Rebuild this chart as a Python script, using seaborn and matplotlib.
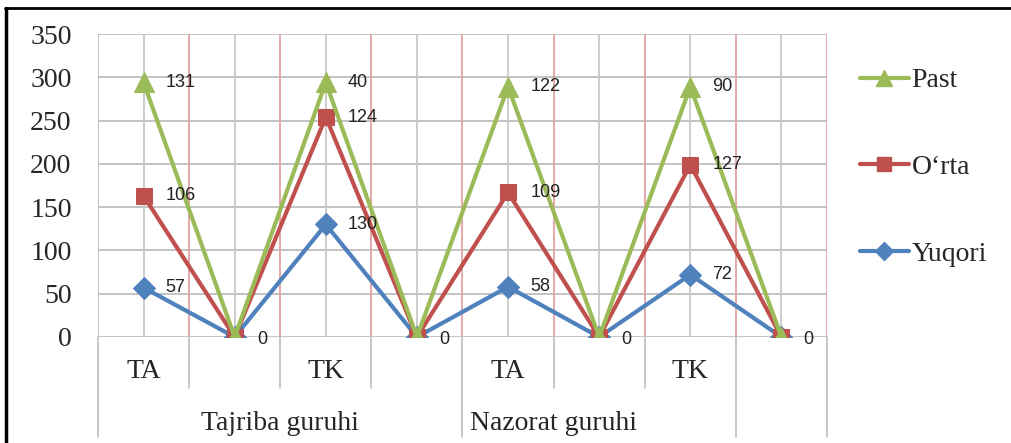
import numpy as np
import pandas as pd
import matplotlib
matplotlib.use("Agg")
import matplotlib.pyplot as plt
import matplotlib.transforms as mtransforms
from matplotlib.lines import Line2D
import seaborn as sns

# --- Data ---
categories = ["TA", "", "TK", "", "TA", "", "TK", ""]
groups = ["Tajriba guruhi", "Nazorat guruhi"]
yuqori = [57, 0, 130, 0, 58, 0, 72, 0]
orta = [106, 0, 124, 0, 109, 0, 127, 0]
past = [131, 0, 40, 0, 122, 0, 90, 0]

series_names = ["Yuqori", "O\u2018rta", "Past"]
series_vals = [yuqori, orta, past]
colors = ["#4F81BD", "#C0504D", "#9BBB59"]
markers = ["D", "s", "^"]
msizes = [11, 12, 14]

sns.set_style("white")
plt.rcParams["font.family"] = ["Liberation Serif", "DejaVu Serif"]

fig = plt.figure(figsize=(10.12, 4.43), dpi=100)
W, H = 1012, 443
ax = fig.add_axes([98 / W, 1 - 337 / H, (827 - 98) / W, (337 - 34) / H])

pos = np.arange(len(categories))
# stacked line chart
cum = np.zeros(len(categories))
df = pd.DataFrame({"pos": pos})
for name, vals in zip(series_names, series_vals):
    cum = cum + np.array(vals)
    df[name] = cum.copy()

handles = {}
for name, vals, col, mk, ms in zip(series_names, series_vals, colors, markers, msizes):
    sns.lineplot(data=df, x="pos", y=name, ax=ax, color=col, marker=mk,
                 markersize=ms, markeredgecolor=col, linewidth=3, zorder=5)
    handles[name] = Line2D([], [], color=col, marker=mk, markersize=ms * 0.8,
                           markeredgecolor=col, linewidth=3)
    for x, yv, v in zip(pos, df[name], vals):
        if v == 0 and name != "Past":
            continue
        ax.annotate(str(v), (x, yv), xytext=(16, -2 if v == 0 else 0),
                    textcoords="offset points", ha="left", va="center",
                    fontsize=13, family="Liberation Sans", color="#222222",
                    zorder=6)

ax.set_xlim(-0.5, len(categories) - 0.5)
ax.set_ylim(0, 350)
ax.set_yticks(np.arange(0, 351, 50))
ax.set_yticklabels([str(v) for v in range(0, 351, 50)], fontsize=20)
ax.tick_params(axis="y", length=7, color="#BEBEBE", width=1.2, pad=12)
ax.set_xticks([])
ax.set_xlabel("")
ax.set_ylabel("")
for s in ax.spines.values():
    s.set_visible(False)

# gridlines
for yv in range(0, 351, 50):
    ax.axhline(yv, color="#BEBEBE", lw=1.3, zorder=1)
for x in pos:
    ax.axvline(x, color="#C8C8C8", lw=1.3, zorder=1)
ax.axvline(-0.5, color="#BEBEBE", lw=1.3, zorder=1)
for x in pos + 0.5:
    ax.axvline(x, color="#E3A3A3", lw=1.3, zorder=1)

# multi-level category axis
trans = mtransforms.blended_transform_factory(ax.transData, ax.transAxes)
for x in [0.5, 1.5, 2.5, 4.5, 5.5]:
    ax.plot([x, x], [0, -0.168], color="#BEBEBE", lw=1.2, transform=trans, clip_on=False)
for x in [-0.5, 3.5, 6.5, 7.5]:
    ax.plot([x, x], [0, -0.33], color="#BEBEBE", lw=1.2, transform=trans, clip_on=False)
for x, lab in zip(pos, categories):
    if lab:
        ax.text(x, -0.115, lab, transform=trans, ha="center", va="center", fontsize=20)
ax.text(1.5, -0.284, groups[0], transform=trans, ha="center", va="center", fontsize=20)
ax.text(4.5, -0.284, groups[1], transform=trans, ha="center", va="center", fontsize=20)

# legend
leg_order = ["Past", "O\u2018rta", "Yuqori"]
leg = fig.legend([handles[n] for n in leg_order], leg_order,
                 loc="upper left", bbox_to_anchor=(860 / W, 1 - 68 / H),
                 frameon=False, fontsize=20, labelspacing=2.2, borderpad=0,
                 borderaxespad=0, handlelength=1.75, handletextpad=0.1)

# outer frame remnants
fig.add_artist(Line2D([6 / W, 6 / W], [0, 1 - 8 / H], color="black", lw=2.5,
                      transform=fig.transFigure))
fig.add_artist(Line2D([5 / W, 1], [1 - 8 / H, 1 - 8 / H], color="black", lw=2,
                      transform=fig.transFigure))

fig.savefig("out.png", dpi=100)
